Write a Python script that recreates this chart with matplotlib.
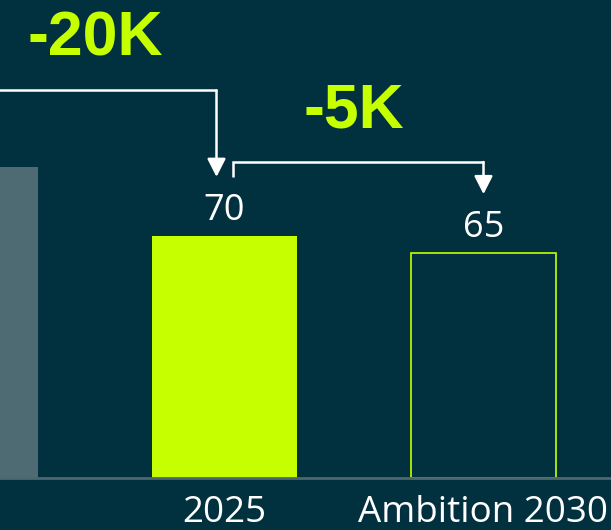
import matplotlib.pyplot as plt

categories = ["2019", "2025", "Ambition 2030"]
values = [90, 70, 65]
deltas = ["-20K", "-5K"]

BG = "#01313f"
LIME = "#c6ff00"
GREY = "#4e6a72"
AXIS = "#4d6670"

plt.rcParams['font.family'] = ['Open Sans', 'DejaVu Sans']

fig = plt.figure(figsize=(6.11, 5.30), dpi=100, facecolor=BG)
ax = fig.add_axes([0, 52 / 530, 1, 478 / 530])
ax.set_facecolor(BG)

x = list(range(len(categories)))
width = 145 / 259

# bars: history grey, current lime, target outlined
ax.bar(x[0], values[0], width=width, color=GREY)
ax.bar(x[1], values[1], width=width, color=LIME)
ax.bar(x[2], values[2], width=width, facecolor=BG, edgecolor=LIME, linewidth=1.2)

for xi, v in zip(x, values):
    ax.annotate(str(v), (xi, v), xytext=(0, 5), textcoords="offset points",
                ha="center", va="bottom", color="white", fontsize=26)

ax.set_xticks(x)
ax.set_xticklabels(categories, color="white", fontsize=26.5)
ax.tick_params(axis="x", length=0, pad=12)
ax.set_yticks([])
for side in ["top", "right", "left"]:
    ax.spines[side].set_visible(False)
ax.spines["bottom"].set_color(AXIS)
ax.spines["bottom"].set_linewidth(2)

# crop so the first bar sits mostly off the left edge
ax.set_xlim(1 - 224.5 / 259, 1 + (611 - 224.5) / 259)
ax.set_ylim(0, 478 / 3.457)

# bracket arrows between bars
dx = 8 / 259
drop = 17.1
rise = 22.1
arrow = dict(arrowstyle="-|>,head_length=0.55,head_width=0.28", color="white",
             lw=1.8, shrinkA=0, shrinkB=0, mutation_scale=20)
for i, label in enumerate(deltas):
    x0 = x[i] + (dx if i > 0 else 0)
    x1 = x[i + 1] - (dx if i == 0 else 0)
    y0 = values[i] + drop
    ytop = values[i] + rise - (1 if i > 0 else 0) * 0.7
    y1 = values[i + 1] + drop
    ax.plot([x0, x0, x1], [y0, ytop, ytop], color="white", lw=1.8,
            solid_capstyle="butt", solid_joinstyle="miter")
    ax.annotate("", xy=(x1, y1), xytext=(x1, ytop), arrowprops=arrow)
    ax.annotate(label, ((x[i] + x[i + 1]) / 2, ytop), xytext=(0, 37),
                textcoords="offset points", ha="center", va="center",
                color=LIME, fontsize=45, fontweight="bold",
                family=['Liberation Sans', 'DejaVu Sans'])

fig.savefig("out.png", dpi=100, facecolor=BG)
